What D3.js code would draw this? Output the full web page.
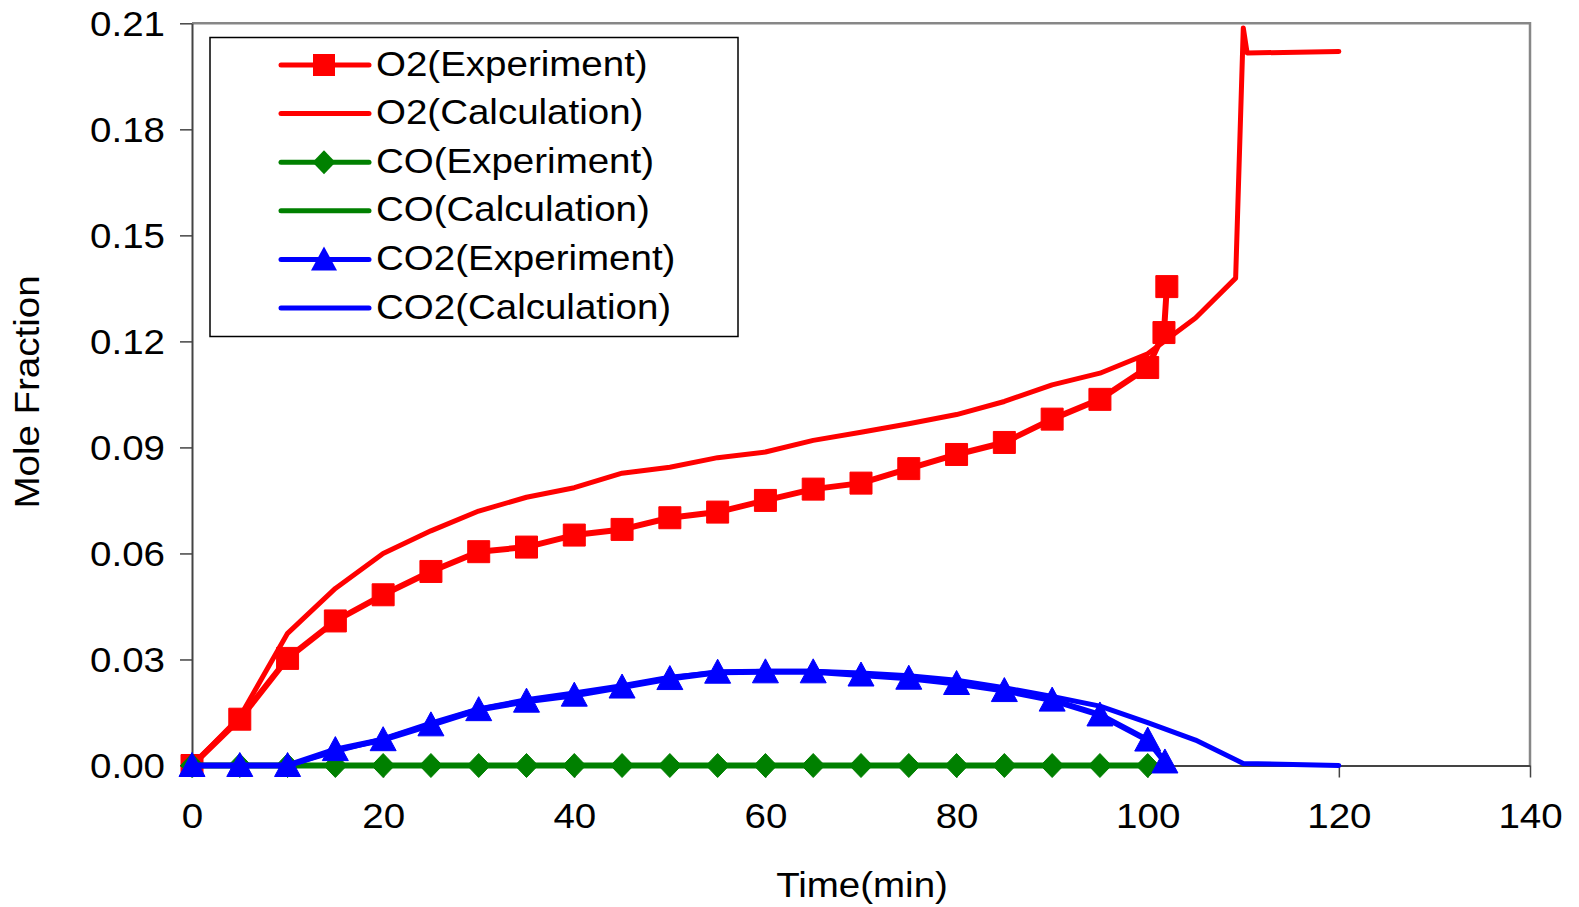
<!DOCTYPE html>
<html>

<head>
    <meta charset="utf-8">
    <script src="https://cdn.jsdelivr.net/npm/d3@7"></script>
    <style>
        body { margin: 0; background: #fff; }
        text {
            fill: black;
            font-family: "Liberation Sans", Arial, sans-serif;
        }
    </style>
</head>

<body>

    <script>

        // times (min) and mole fractions
        var o2ExpTime = [0, 5, 10, 15, 20, 25, 30, 35, 40, 45, 50, 55, 60, 65, 70, 75, 80, 85, 90, 95, 100, 101.7, 102];
        var o2Exp = [0, 0.0131, 0.0303, 0.0409, 0.0483, 0.0549, 0.0605, 0.0618, 0.0652, 0.0668, 0.0701, 0.0717, 0.075, 0.0782, 0.0799, 0.084, 0.088, 0.0914, 0.098, 0.1036, 0.1126, 0.1225, 0.1355];

        var o2CalcTime = [0, 5, 10, 15, 20, 25, 30, 35, 40, 45, 50, 55, 60, 65, 70, 75, 80, 85, 90, 95, 100, 105, 109.2, 110, 110.4, 120];
        var o2Calc = [0, 0.0137, 0.0374, 0.0501, 0.060, 0.0664, 0.072, 0.0759, 0.0786, 0.0827, 0.0844, 0.0871, 0.0887, 0.092, 0.0943, 0.0967, 0.0993, 0.103, 0.1077, 0.111, 0.1165, 0.1266, 0.1379, 0.2087, 0.2016, 0.202];

        var coExpTime = [0, 5, 10, 15, 20, 25, 30, 35, 40, 45, 50, 55, 60, 65, 70, 75, 80, 85, 90, 95, 100];
        var coExp = [0, 0, 0, 0, 0, 0, 0, 0, 0, 0, 0, 0, 0, 0, 0, 0, 0, 0, 0, 0, 0];

        var coCalcTime = [0, 20, 40, 60, 80, 100];
        var coCalc = [0, 0, 0, 0, 0, 0];

        var co2ExpTime = [0, 5, 10, 15, 20, 25, 30, 35, 40, 45, 50, 55, 60, 65, 70, 75, 80, 85, 90, 95, 100, 101.8];
        var co2Exp = [0, 0, 0, 0.0045, 0.0073, 0.0115, 0.0158, 0.0182, 0.0199, 0.0222, 0.0246, 0.0264, 0.0265, 0.0265, 0.0256, 0.0247, 0.0232, 0.0212, 0.0185, 0.0143, 0.0072, 0.001];

        var co2CalcTime = [0, 5, 10, 15, 20, 25, 30, 35, 40, 45, 50, 55, 60, 65, 70, 75, 80, 85, 90, 95, 100, 105, 110, 120];
        var co2Calc = [0, 0, 0, 0.004, 0.0075, 0.012, 0.016, 0.0186, 0.0205, 0.0226, 0.025, 0.0263, 0.0267, 0.0267, 0.0262, 0.0254, 0.0241, 0.022, 0.0195, 0.0168, 0.0121, 0.0072, 0.0006, 0];

        var xTicks = [0, 20, 40, 60, 80, 100, 120, 140];
        var yTicks = [0, 0.03, 0.06, 0.09, 0.12, 0.15, 0.18, 0.21];

        var series = [
            { name: "O2(Experiment)", t: o2ExpTime, v: o2Exp, color: "#ff0000", marker: "square", width: 6 },
            { name: "O2(Calculation)", t: o2CalcTime, v: o2Calc, color: "#ff0000", marker: null, width: 5 },
            { name: "CO(Experiment)", t: coExpTime, v: coExp, color: "#008000", marker: "diamond", width: 6 },
            { name: "CO(Calculation)", t: coCalcTime, v: coCalc, color: "#008000", marker: null, width: 5 },
            { name: "CO2(Experiment)", t: co2ExpTime, v: co2Exp, color: "#0000ff", marker: "triangle", width: 6 },
            { name: "CO2(Calculation)", t: co2CalcTime, v: co2Calc, color: "#0000ff", marker: null, width: 5 }
        ];

        var W = 1579, H = 907;
        var stretch = 1.1; // the original lettering is a bit wide
        var fontSize = '35px';

        var svg = d3.select('body')
            .append('svg')
            .attr('width', W)
            .attr('height', H);

        var x = d3.scaleLinear().domain([0, 140]).range([192, 1530]);
        var y = d3.scaleLinear().domain([0, 0.21]).range([765.5, 23.3]);

        // plot frame (top and right in grey)
        svg.append('path')
            .attr('d', 'M' + x(0) + ',' + y(0.21) + 'H' + x(140) + 'V' + y(0))
            .attr('fill', 'none')
            .attr('stroke', '#878787')
            .attr('stroke-width', 2.5);

        // axes
        var yAxis = svg.append('g')
            .attr('transform', 'translate(' + x(0) + ',0)')
            .call(d3.axisLeft(y).tickValues(yTicks).tickFormat(d3.format('.2f')).tickSize(12).tickSizeOuter(0));

        var xAxis = svg.append('g')
            .attr('transform', 'translate(0,' + y(0) + ')')
            .call(d3.axisBottom(x).tickValues(xTicks).tickSize(12).tickSizeOuter(0));

        svg.selectAll('.domain').attr('stroke', '#444').attr('stroke-width', 2);
        svg.selectAll('.tick line').attr('stroke', '#444').attr('stroke-width', 1.5);

        yAxis.selectAll('text')
            .attr('x', -27 / stretch)
            .attr('dy', '0.35em')
            .attr('transform', 'scale(' + stretch + ',1)')
            .style('font-size', fontSize);

        xAxis.selectAll('text')
            .attr('y', 38)
            .attr('dy', '0.71em')
            .attr('transform', 'scale(' + stretch + ',1)')
            .attr('x', 0)
            .style('font-size', fontSize);

        // axis titles
        svg.append('text')
            .attr('transform', 'translate(862,897) scale(1.1,1)')
            .attr('text-anchor', 'middle')
            .style('font-size', '35px')
            .text('Time(min)');

        svg.append('text')
            .attr('transform', 'translate(39,392) rotate(-90) scale(1.1,1)')
            .attr('text-anchor', 'middle')
            .style('font-size', '35px')
            .text('Mole Fraction');

        // marker shapes
        function markerPath(kind) {
            if (kind === 'square') return 'M-11,-11H11V11H-11Z';
            if (kind === 'diamond') return 'M0,-12L11.5,0L0,12L-11.5,0Z';
            if (kind === 'triangle') return 'M0,-13L13,11H-13Z';
            return '';
        }

        var line = d3.line()
            .x(function (d) { return x(d[0]); })
            .y(function (d) { return y(d[1]); });

        series.forEach(function (s) {
            var pts = s.t.map(function (t, i) { return [t, s.v[i]]; });
            svg.append('path')
                .datum(pts)
                .attr('d', line)
                .attr('fill', 'none')
                .attr('stroke', s.color)
                .attr('stroke-width', s.width)
                .attr('stroke-linejoin', 'round')
                .attr('stroke-linecap', 'round');

            if (s.marker) {
                svg.append('g')
                    .selectAll('path')
                    .data(pts)
                    .enter()
                    .append('path')
                    .attr('transform', function (d) { return 'translate(' + x(d[0]) + ',' + y(d[1]) + ')'; })
                    .attr('d', markerPath(s.marker))
                    .attr('fill', s.color)
                    .attr('stroke', s.color)
                    .attr('stroke-width', 1)
                    .attr('stroke-linejoin', 'round');
            }
        });

        // legend
        var legend = svg.append('g');
        legend.append('rect')
            .attr('x', 210)
            .attr('y', 37.5)
            .attr('width', 528)
            .attr('height', 299)
            .attr('fill', 'white')
            .attr('stroke', 'black')
            .attr('stroke-width', 1.5);

        series.forEach(function (s, i) {
            var ly = 65 + i * 48.6;
            legend.append('line')
                .attr('x1', 281)
                .attr('x2', 369)
                .attr('y1', ly)
                .attr('y2', ly)
                .attr('stroke', s.color)
                .attr('stroke-width', 5)
                .attr('stroke-linecap', 'round');
            if (s.marker) {
                legend.append('path')
                    .attr('transform', 'translate(324,' + ly + ')')
                    .attr('d', markerPath(s.marker))
                    .attr('fill', s.color);
            }
            legend.append('text')
                .attr('transform', 'translate(376,' + (ly - 2) + ') scale(' + stretch + ',1)')
                .attr('dy', '0.36em')
                .style('font-size', fontSize)
                .text(s.name);
        });
    </script>

</body>

</html>
